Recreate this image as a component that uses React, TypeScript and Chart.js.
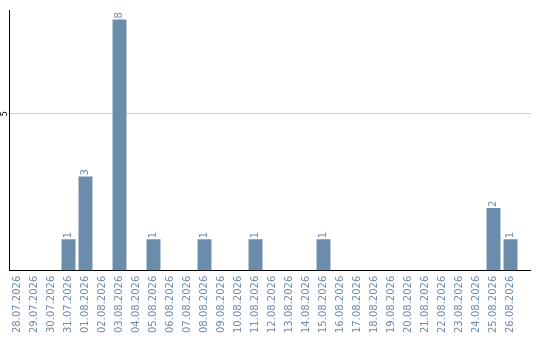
import React, { useEffect, useRef } from "react";
import { Chart, registerables, Plugin } from "chart.js";

Chart.register(...registerables);

const dates: string[] = [
  "28.07.2026", "29.07.2026", "30.07.2026", "31.07.2026", "01.08.2026",
  "02.08.2026", "03.08.2026", "04.08.2026", "05.08.2026", "06.08.2026",
  "07.08.2026", "08.08.2026", "09.08.2026", "10.08.2026", "11.08.2026",
  "12.08.2026", "13.08.2026", "14.08.2026", "15.08.2026", "16.08.2026",
  "17.08.2026", "18.08.2026", "19.08.2026", "20.08.2026", "21.08.2026",
  "22.08.2026", "23.08.2026", "24.08.2026", "25.08.2026", "26.08.2026",
];

const counts: number[] = [
  0, 0, 0, 1, 3,
  0, 8, 0, 1, 0,
  0, 1, 0, 0, 1,
  0, 0, 0, 1, 0,
  0, 0, 0, 0, 0,
  0, 0, 0, 2, 1,
];

const yTicks: number[] = [0, 5];

const BAR = "#6c8cac";
const TEXT = "#6c8cac";
const FONT = "DejaVu Sans";
const TAIL = 12; // x axis and grid lines run a little past the last category

// crisp 1px line position, same rounding Chart.js uses
const align = (p: number) => Math.round(p - 0.5) + 0.5;

// Axis/grid extension on the right, rotated y tick labels and value labels
const labelPlugin: Plugin<"bar"> = {
  id: "rotatedLabels",
  beforeDatasetsDraw(chart) {
    const ctx = chart.ctx;
    const { right } = chart.chartArea;
    const y = chart.scales.y;
    const x = chart.scales.x;
    ctx.save();
    ctx.lineWidth = 1;
    ctx.strokeStyle = "#cccccc";
    for (const t of yTicks) {
      if (t === 0) continue;
      const py = align(y.getPixelForValue(t));
      ctx.beginPath();
      ctx.moveTo(right, py);
      ctx.lineTo(right + TAIL, py);
      ctx.stroke();
    }
    ctx.strokeStyle = "#000";
    const by = align(x.top);
    ctx.beginPath();
    ctx.moveTo(right - 1, by);
    ctx.lineTo(right + TAIL, by);
    ctx.stroke();
    ctx.restore();
  },
  afterDatasetsDraw(chart) {
    const ctx = chart.ctx;
    const y = chart.scales.y;
    ctx.save();
    ctx.fillStyle = "#000";
    ctx.font = `8px ${FONT}`;
    ctx.textAlign = "center";
    ctx.textBaseline = "middle";
    for (const t of yTicks) {
      if (t === 0) continue;
      ctx.save();
      ctx.translate(4.5, y.getPixelForValue(t));
      ctx.rotate(-Math.PI / 2);
      ctx.fillText(String(t), 0, 0);
      ctx.restore();
    }
    const meta = chart.getDatasetMeta(0);
    ctx.fillStyle = TEXT;
    ctx.font = `10px ${FONT}`;
    ctx.textAlign = "left";
    ctx.textBaseline = "middle";
    meta.data.forEach((el: any, i: number) => {
      const v = counts[i];
      if (!v) return;
      ctx.save();
      ctx.translate(el.x, el.y - 1);
      ctx.rotate(-Math.PI / 2);
      ctx.fillText(String(v), 0, 0);
      ctx.restore();
    });
    ctx.restore();
  },
};

export default function App() {
  const ref = useRef<HTMLCanvasElement>(null);

  useEffect(() => {
    document.body.style.margin = "0";
    const chart = new Chart(ref.current!, {
      type: "bar",
      data: {
        labels: dates,
        datasets: [
          {
            data: counts,
            backgroundColor: BAR,
            barPercentage: 0.82,
            categoryPercentage: 1,
          },
        ],
      },
      options: {
        animation: false,
        responsive: false,
        layout: { padding: { left: 9, right: 21, top: 10, bottom: 2 } },
        plugins: { legend: { display: false }, tooltip: { enabled: false } },
        scales: {
          x: {
            grid: { display: false, drawTicks: false },
            border: { color: "#000", width: 1 },
            ticks: {
              minRotation: 90,
              maxRotation: 90,
              autoSkip: false,
              padding: 5,
              color: TEXT,
              font: { family: FONT, size: 10 },
            },
          },
          y: {
            min: 0,
            max: 8.3,
            afterBuildTicks: (scale: any) => {
              scale.ticks = yTicks.map((v) => ({ value: v }));
            },
            ticks: { display: false },
            grid: { color: "#cccccc", drawTicks: false },
            border: { color: "#000", width: 1 },
          },
        },
      },
      plugins: [labelPlugin],
    });
    return () => chart.destroy();
  }, []);

  return <canvas ref={ref} width={540} height={340} style={{ display: "block" }} />;
}
